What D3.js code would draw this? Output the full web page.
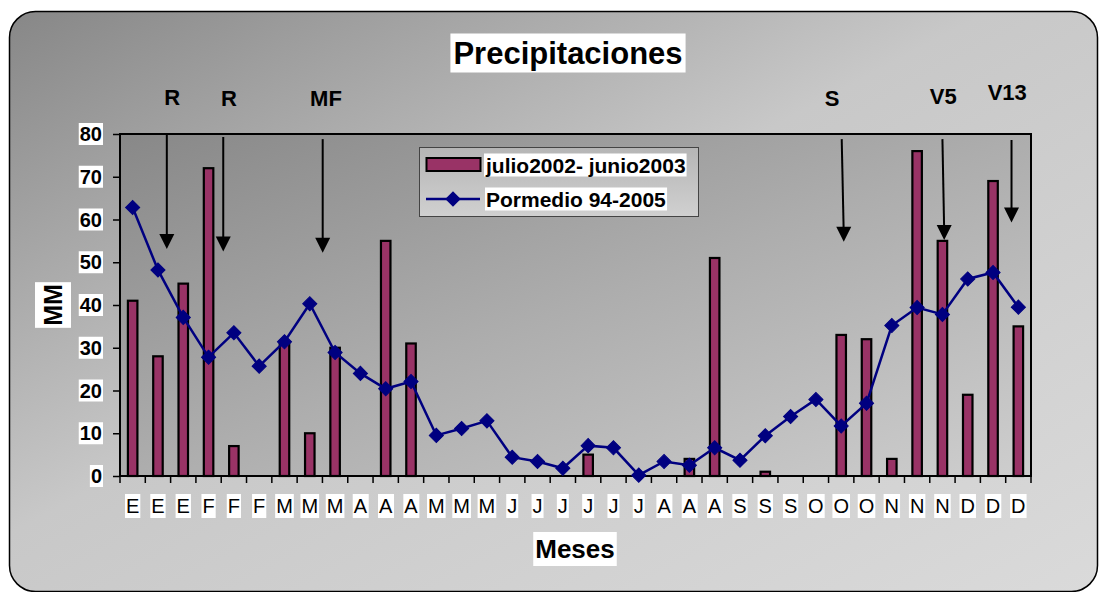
<!DOCTYPE html>
<html>
<head>
<meta charset="utf-8">
<script src="https://cdn.jsdelivr.net/npm/d3@7/dist/d3.min.js"></script>
<style>
  html, body { margin: 0; padding: 0; background: #ffffff; }
  svg { display: block; }
  text { font-family: Arial, "Liberation Sans", sans-serif; }
</style>
</head>
<body>
<svg id="chart" width="1099" height="592"></svg>
<script>
// ---- data ----
const monthLabels = ["E","E","E","F","F","F","M","M","M","A","A","A","M","M","M","J","J","J","J","J","J","A","A","A","S","S","S","O","O","O","N","N","N","D","D","D"];
const seriesBars = [41,28,45,72,7,0,31,10,30,0,55,31,0,0,0,0,0,0,5,0,0,0,4,51,0,1,0,0,33,32,4,76,55,19,69,35];
const seriesLine = [62.8,48.2,37.1,27.8,33.5,25.7,31.4,40.3,28.9,24.0,20.4,22.1,9.5,11.1,12.9,4.4,3.4,1.8,7.1,6.6,0.2,3.4,2.5,6.6,3.7,9.4,13.9,17.9,11.7,17.0,35.2,39.4,37.8,46.1,47.6,39.5];
const barName = "julio2002- junio2003";
const lineName = "Pormedio 94-2005";
const yTicks = [0,10,20,30,40,50,60,70,80];
// arrows: position in category units, top value, tip value
const arrowLabels = ["R","R","MF","S","V5","V13"];
const arrowPos    = [1.85, 4.08, 8.01, 28.52, 32.5, 35.23];
const arrowTipPos = [1.85, 4.08, 8.01, 28.6, 32.57, 35.23];
const arrowTop    = [80, 79.3, 78.8, 78.8, 78.8, 78.6];
const arrowTip    = [53.1, 52.5, 52.2, 54.8, 55.2, 59.3];
const labelPos    = [2.06, 4.31, 8.14, 28.14, 32.53, 35.06];
const labelVal    = [88.6, 88.2, 88.2, 88.4, 88.8, 89.6];

// ---- layout ----
const svg = d3.select("#chart");
const L = 120, R = 1031, T = 134, B = 476;
const x = d3.scaleBand().domain(d3.range(monthLabels.length)).range([L, R]).paddingInner(0).paddingOuter(0);
const y = d3.scaleLinear().domain([0, 80]).range([B, T]);
const step = x.step();
const xp = p => L + p * step;

const defs = svg.append("defs");
const g1 = defs.append("linearGradient").attr("id","frameGrad").attr("x1",0).attr("y1",0).attr("x2",1).attr("y2",1);
g1.append("stop").attr("offset","0").attr("stop-color","#878787");
g1.append("stop").attr("offset","0.45").attr("stop-color","#c8c8c8");
g1.append("stop").attr("offset","1").attr("stop-color","#dadada");
const g2 = defs.append("linearGradient").attr("id","plotGrad").attr("x1",0).attr("y1",0).attr("x2",1).attr("y2",1);
g2.append("stop").attr("offset","0").attr("stop-color","#888888");
g2.append("stop").attr("offset","0.5").attr("stop-color","#adadad");
g2.append("stop").attr("offset","1").attr("stop-color","#cecece");
const g3 = defs.append("linearGradient").attr("id","legGrad").attr("x1",0).attr("y1",0).attr("x2",0).attr("y2",1);
g3.append("stop").attr("offset","0").attr("stop-color","#b5b5b5");
g3.append("stop").attr("offset","1").attr("stop-color","#d0d0d0");

// frame
svg.append("rect").attr("x",9.5).attr("y",11.5).attr("width",1088).attr("height",580)
  .attr("rx",26).attr("ry",26).attr("fill","url(#frameGrad)").attr("stroke","#000").attr("stroke-width",1.5);

// plot area
svg.append("rect").attr("x",L).attr("y",T).attr("width",R-L).attr("height",B-T)
  .attr("fill","url(#plotGrad)");

// helper: text with white box
function boxedText(sel, txt, px, py, opts) {
  const g = sel.append("g");
  const t = g.append("text").attr("x",px).attr("y",py).text(txt)
    .attr("font-size",opts.size).attr("font-weight",opts.weight||"normal")
    .attr("text-anchor",opts.anchor||"middle").attr("dominant-baseline","central").attr("fill","#000");
  if (opts.rotate) t.attr("transform",`rotate(${opts.rotate},${px},${py})`);
  const bb = t.node().getBBox();
  const padX = opts.padX!=null?opts.padX:2, padY = opts.padY!=null?opts.padY:1;
  const r = g.insert("rect","text").attr("fill","#fff");
  if (opts.rotate) {
    r.attr("x",px-bb.height/2-padY).attr("y",py-bb.width/2-padX)
     .attr("width",bb.height+2*padY).attr("height",bb.width+2*padX);
  } else {
    r.attr("x",bb.x-padX).attr("y",bb.y-padY).attr("width",bb.width+2*padX).attr("height",bb.height+2*padY);
  }
  return g;
}

// title
boxedText(svg, "Precipitaciones", 568, 53, {size:31, weight:"bold", padX:3, padY:2});

// y axis ticks & labels
const yAxis = d3.axisLeft(y).tickValues(yTicks).tickSize(7).tickFormat("");
svg.append("g").attr("transform",`translate(${L},0)`).call(yAxis)
  .call(g => g.select(".domain").remove())
  .call(g => g.selectAll(".tick line").attr("stroke","#000").attr("stroke-width",1.5));
yTicks.forEach(v => boxedText(svg, String(v), 102, y(v), {size:20, weight:"bold", anchor:"end", padX:1, padY:0}));

// x axis ticks at boundaries
svg.append("g").selectAll("line").data(d3.range(monthLabels.length+1)).join("line")
  .attr("x1", i => xp(i)).attr("x2", i => xp(i)).attr("y1", B).attr("y2", B+7)
  .attr("stroke","#000").attr("stroke-width",1.5);
monthLabels.forEach((m,i) => boxedText(svg, m, x(i)+x.bandwidth()/2, 506, {size:20, padX:1, padY:1}));

// bars
const bw = 9.5;
svg.append("g").selectAll("rect").data(seriesBars.map((v,i)=>({v,i})).filter(d=>d.v>0)).join("rect")
  .attr("x", d => x(d.i)+x.bandwidth()/2 - bw/2)
  .attr("y", d => y(d.v))
  .attr("width", bw)
  .attr("height", d => y(0)-y(d.v))
  .attr("fill","#993366").attr("stroke","#000").attr("stroke-width",2.2);

// plot border
svg.append("rect").attr("x",L).attr("y",T).attr("width",R-L).attr("height",B-T)
  .attr("fill","none").attr("stroke","#000").attr("stroke-width",2);

// line
const line = d3.line().x((d,i)=>x(i)+x.bandwidth()/2).y(d=>y(d));
svg.append("path").datum(seriesLine).attr("d",line).attr("fill","none")
  .attr("stroke","#000080").attr("stroke-width",2.5);
const diamond = d3.symbol().type(d3.symbolSquare).size(100);
svg.append("g").selectAll("path").data(seriesLine).join("path")
  .attr("d", diamond)
  .attr("transform",(d,i)=>`translate(${x(i)+x.bandwidth()/2},${y(d)}) rotate(45)`)
  .attr("fill","#000080").attr("stroke","#000080").attr("stroke-width",1);

// arrows
arrowLabels.forEach((lab,k) => {
  const x0 = xp(arrowPos[k]), y0 = y(arrowTop[k]);
  const x1 = xp(arrowTipPos[k]), y1 = y(arrowTip[k]);
  svg.append("line").attr("x1",x0).attr("y1",y0).attr("x2",x1).attr("y2",y1-8)
    .attr("stroke","#000").attr("stroke-width",2);
  svg.append("path").attr("d",`M${x1-7.5},${y1-15} L${x1+7.5},${y1-15} L${x1},${y1} Z`).attr("fill","#000");
  svg.append("text").attr("x",xp(labelPos[k])).attr("y",y(labelVal[k])).text(lab)
    .attr("font-size",22).attr("font-weight","bold").attr("text-anchor","middle")
    .attr("dominant-baseline","central").attr("fill","#000");
});

// legend
const lg = svg.append("g");
lg.append("rect").attr("x",419.5).attr("y",147.5).attr("width",279).attr("height",69)
  .attr("fill","url(#legGrad)").attr("stroke","#444").attr("stroke-width",1);
lg.append("rect").attr("x",426.5).attr("y",158).attr("width",54).attr("height",13)
  .attr("fill","#993366").attr("stroke","#000").attr("stroke-width",2);
boxedText(lg, barName, 486, 165, {size:21, weight:"bold", anchor:"start", padX:1, padY:0});
lg.append("line").attr("x1",426).attr("x2",480).attr("y1",199).attr("y2",199)
  .attr("stroke","#000080").attr("stroke-width",2.5);
lg.append("path").attr("d",diamond).attr("transform","translate(453,199) rotate(45)")
  .attr("fill","#000080").attr("stroke","#000080");
boxedText(lg, lineName, 486, 199, {size:21, weight:"bold", anchor:"start", padX:1, padY:0});

// axis titles
boxedText(svg, "Meses", 575, 549, {size:26, weight:"bold", padX:2, padY:2});
boxedText(svg, "MM", 53, 305, {size:25, weight:"bold", rotate:-90, padX:2, padY:4});
</script>
</body>
</html>
